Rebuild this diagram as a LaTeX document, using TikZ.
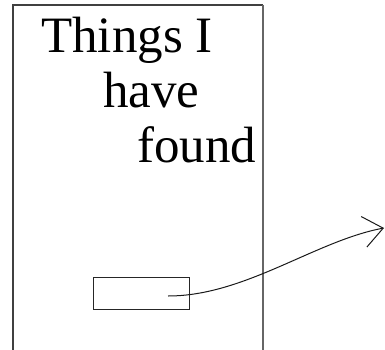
\documentclass[tikz,border=0pt]{standalone}
\usepackage{fontspec}
\setmainfont{Liberation Serif}
\usetikzlibrary{arrows.meta}
\tikzset{
  label text/.style={anchor=base west, inner sep=0pt, font=\fontsize{51}{51}\selectfont, text=black},
  frameline/.style={draw=black!75, line width=1.1pt},
  frameright/.style={draw=black!60, line width=2pt},
  smallbox/.style={draw=black!85, line width=1pt, minimum width=96pt, minimum height=32pt, inner sep=0pt},
  link/.style={draw=black!90, line width=1pt, -{Straight Barb[length=19.5pt,width=31pt,line width=1pt]}}
}
\begin{document}
\begin{tikzpicture}[x=1pt,y=-1pt]
\useasboundingbox (0,0) rectangle (385,350);
\draw[frameline] (13,350) -- (13,5) -- (263,5);
\draw[frameright] (263,5) -- (263,350);
\node[label text] (t1) at (41,53) {Things I};
\node[label text] (t2) at (103,107) {have};
\node[label text] (t3) at (137,162) {found};
\node[smallbox] (box) at (141,293) {};
\coordinate (start) at (168,296);
\coordinate (tip) at (384,228);
\draw[link] (start) .. controls (245,296) and (315,241) .. (tip);
\end{tikzpicture}
\end{document}
